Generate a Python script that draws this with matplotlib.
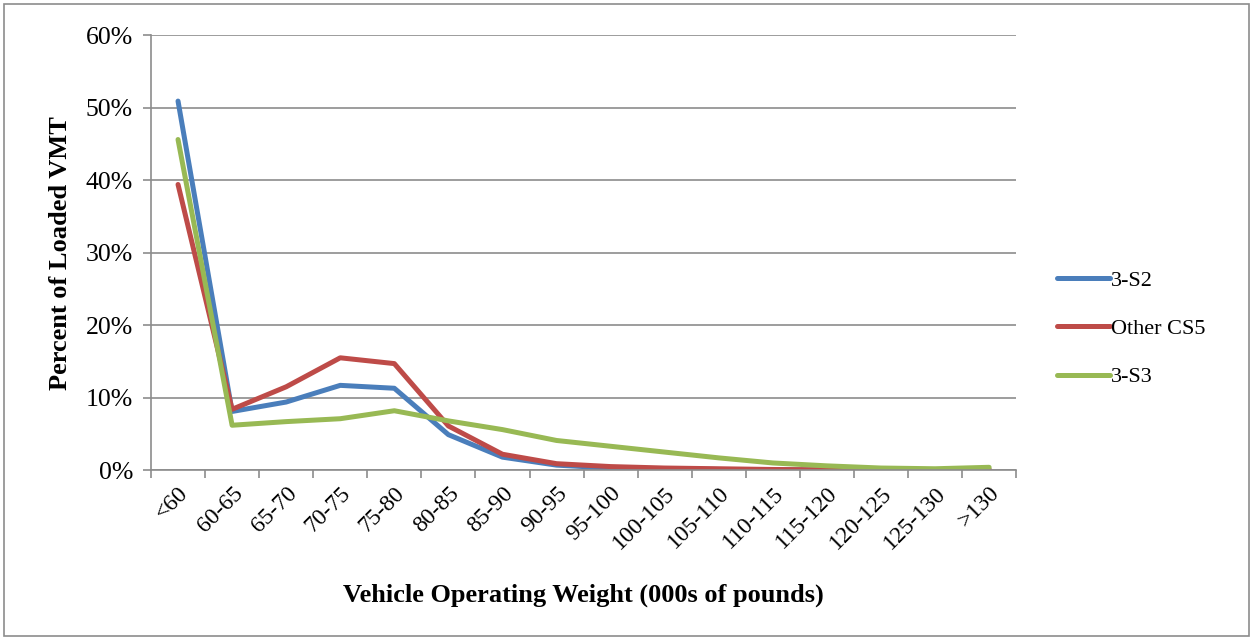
import matplotlib.pyplot as plt
from matplotlib.patches import Rectangle
from matplotlib.ticker import FuncFormatter

plt.rcParams['font.family'] = ['Liberation Serif', 'DejaVu Serif']

# weight bins (000s of pounds)
categories = ['<60', '60-65', '65-70', '70-75', '75-80', '80-85', '85-90', '90-95',
              '95-100', '100-105', '105-110', '110-115', '115-120', '120-125',
              '125-130', '>130']

# percent of loaded VMT
s2 = [50.9, 8.1, 9.4, 11.7, 11.3, 4.9, 1.8, 0.7, 0.3, 0.2, 0.1, 0.05, 0.03, 0.02, 0.02, 0.05]
other_cs5 = [39.4, 8.4, 11.5, 15.5, 14.7, 6.1, 2.2, 0.9, 0.5, 0.3, 0.2, 0.1, 0.05, 0.05, 0.05, 0.1]
s3 = [45.6, 6.2, 6.7, 7.1, 8.2, 6.8, 5.6, 4.1, 3.3, 2.5, 1.7, 1.0, 0.6, 0.3, 0.2, 0.4]

series = [('3-S2', s2, '#4A7EBB'), ('Other CS5', other_cs5, '#BE4B48'), ('3-S3', s3, '#98B954')]

fig = plt.figure(figsize=(12.53, 6.38), dpi=100)
ax = fig.add_axes([0.1205, 0.263, 0.6905, 0.682])

x = list(range(len(categories)))
for name, vals, col in series:
    ax.plot(x, vals, color=col, lw=3.6, label=name, solid_capstyle='round')

ax.set_xlim(-0.5, len(categories) - 0.5)
ax.set_ylim(0, 60)
ax.set_yticks(range(0, 61, 10))
ax.yaxis.set_major_formatter(FuncFormatter(lambda v, p: f'{int(v)}%'))
ax.grid(axis='y', color='#8c8c8c', lw=1.2)
ax.set_axisbelow(True)

ax.set_xticks(x)
ax.set_xticklabels(categories, rotation=45, ha='right', rotation_mode='anchor')
ax.set_xticks([i - 0.5 for i in range(len(categories) + 1)], minor=True)
ax.tick_params(axis='x', which='major', length=0, labelsize=17, pad=9)
ax.tick_params(axis='x', which='minor', length=6, color='#8c8c8c', width=1.2)
ax.tick_params(axis='y', length=6, color='#8c8c8c', width=1.2, labelsize=18.5, pad=7)

for side in ['top', 'right']:
    ax.spines[side].set_visible(False)
for side in ['left', 'bottom']:
    ax.spines[side].set_color('#8c8c8c')
    ax.spines[side].set_linewidth(1.2)

ax.set_ylabel('Percent of Loaded VMT', fontsize=19, fontweight='bold', labelpad=10)
ax.set_xlabel('Vehicle Operating Weight (000s of pounds)', fontsize=19, fontweight='bold', labelpad=22)

ax.legend(loc='center left', bbox_to_anchor=(1.024, 0.325), frameon=False, fontsize=16,
          handlelength=2.4, handletextpad=0.05, labelspacing=1.25)

# outer frame of the chart area
fig.patches.append(Rectangle((0.003, 0.003), 0.994, 0.99, transform=fig.transFigure,
                             fill=False, edgecolor='#8c8c8c', lw=1.2))

fig.savefig('out.png', dpi=100)
